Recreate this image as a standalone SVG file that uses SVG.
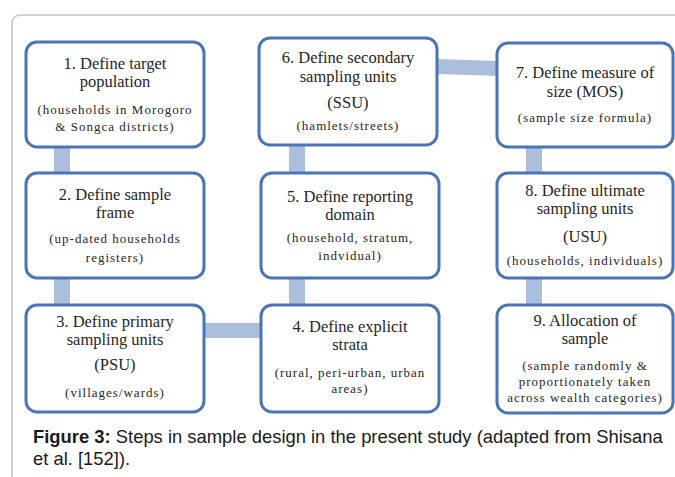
<svg xmlns="http://www.w3.org/2000/svg" width="675" height="477" viewBox="0 0 675 477">
<style>
.box{fill:#fff;stroke:#4a74b3;stroke-width:3}
.con{fill:#abbfdd}
.t{font-family:"Liberation Serif","Times New Roman",serif;font-size:16.5px;fill:#262626;text-anchor:middle}
.s{font-family:"Liberation Serif","Times New Roman",serif;font-size:13px;letter-spacing:1px;fill:#262626;text-anchor:middle}
.cap{font-family:"Liberation Sans",Arial,sans-serif;font-size:18.4px;fill:#1a1a1a}
</style>
<rect width="675" height="477" fill="#fff"/>
<rect x="12" y="15" width="700" height="500" rx="8" fill="none" stroke="#c4c4c4" stroke-width="1.5"/>
<g id="connectors">
<rect class="con" x="54" y="146" width="16" height="28"/>
<rect class="con" x="54" y="277" width="16" height="29"/>
<rect class="con" x="204" y="323" width="58" height="15"/>
<rect class="con" x="289" y="277" width="16" height="29"/>
<rect class="con" x="289" y="144" width="16" height="30"/>
<polygon class="con" points="436,59 498,61 498,76 436,74"/>
<rect class="con" x="526" y="146" width="16" height="28"/>
<rect class="con" x="526" y="277" width="16" height="29"/>
</g>
<g id="node1">
<rect class="box" x="26" y="42" width="178" height="105" rx="11"/>
<text class="t" x="115" y="69">1. Define target</text>
<text class="t" x="115" y="87">population</text>
<text class="s" x="115" y="114">(households in Morogoro</text>
<text class="s" x="115" y="131">&amp; Songca districts)</text>
</g>
<g id="node2">
<rect class="box" x="26" y="173" width="178" height="105" rx="11"/>
<text class="t" x="115" y="200">2. Define sample</text>
<text class="t" x="115" y="218">frame</text>
<text class="s" x="115" y="243">(up-dated households</text>
<text class="s" x="115" y="262">registers)</text>
</g>
<g id="node3">
<rect class="box" x="26" y="305" width="178" height="107" rx="11"/>
<text class="t" x="115" y="327">3. Define primary</text>
<text class="t" x="115" y="345">sampling units</text>
<text class="t" x="115" y="370">(PSU)</text>
<text class="s" x="115" y="397">(villages/wards)</text>
</g>
<g id="node4">
<rect class="box" x="261" y="305" width="178" height="107" rx="11"/>
<text class="t" x="350" y="332">4. Define explicit</text>
<text class="t" x="350" y="350">strata</text>
<text class="s" x="350" y="377">(rural, peri-urban, urban</text>
<text class="s" x="350" y="393">areas)</text>
</g>
<g id="node5">
<rect class="box" x="261" y="173" width="178" height="105" rx="11"/>
<text class="t" x="350" y="202">5. Define reporting</text>
<text class="t" x="350" y="220">domain</text>
<text class="s" x="350" y="242">(household, stratum,</text>
<text class="s" x="350" y="260">indvidual)</text>
</g>
<g id="node6">
<rect class="box" x="259" y="38" width="178" height="107" rx="11"/>
<text class="t" x="348" y="63">6. Define secondary</text>
<text class="t" x="348" y="82">sampling units</text>
<text class="t" x="348" y="108">(SSU)</text>
<text class="s" x="348" y="130">(hamlets/streets)</text>
</g>
<g id="node7">
<rect class="box" x="497" y="43" width="176" height="104" rx="11"/>
<text class="t" x="585" y="78">7. Define measure of</text>
<text class="t" x="585" y="97">size (MOS)</text>
<text class="s" x="585" y="122">(sample size formula)</text>
</g>
<g id="node8">
<rect class="box" x="497" y="173" width="176" height="105" rx="11"/>
<text class="t" x="585" y="196">8. Define ultimate</text>
<text class="t" x="585" y="214">sampling units</text>
<text class="t" x="585" y="242">(USU)</text>
<text class="s" x="585" y="265">(households, individuals)</text>
</g>
<g id="node9">
<rect class="box" x="497" y="305" width="176" height="108" rx="11"/>
<text class="t" x="585" y="326">9. Allocation of</text>
<text class="t" x="585" y="344">sample</text>
<text class="s" x="585" y="370">(sample randomly &amp;</text>
<text class="s" x="585" y="386">proportionately taken</text>
<text class="s" x="585" y="402">across wealth categories)</text>
</g>
<text class="cap" x="33" y="443"><tspan font-weight="bold">Figure 3:</tspan> Steps in sample design in the present study (adapted from Shisana</text>
<text class="cap" x="33" y="465">et al. [152]).</text>
</svg>
